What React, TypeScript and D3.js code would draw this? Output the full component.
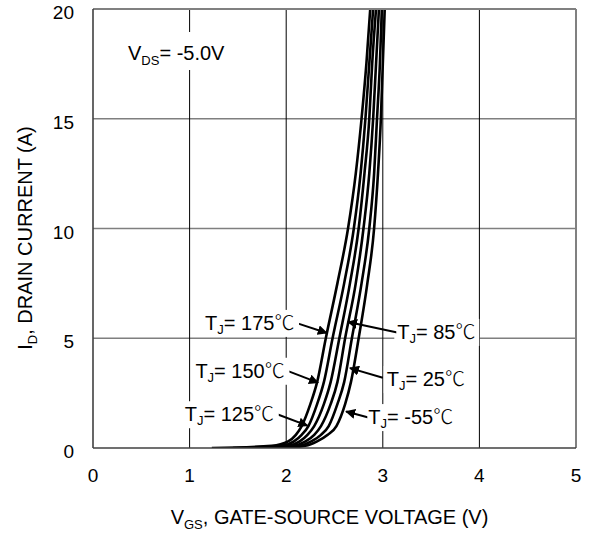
import React from "react";
import * as d3 from "d3";

const W = 594;
const H = 533;

// x ticks / y ticks
const xTicks = [0, 1, 2, 3, 4, 5];
const yTicks = [0, 5, 10, 15, 20];

// Drain current levels (A) at which V_GS was read for each curve
const currentLevels = [0, 0.1, 0.3, 0.6, 1, 2, 3, 5, 7.5, 10, 12.5, 15, 17.5, 20];

// V_GS (V) read at each current level, per junction temperature
const vgs175 = [1.23, 1.85, 2.02, 2.1, 2.16, 2.25, 2.32, 2.41, 2.53, 2.64, 2.72, 2.78, 2.83, 2.87];
const vgs150 = [1.45, 1.95, 2.08, 2.16, 2.23, 2.32, 2.39, 2.48, 2.6, 2.7, 2.77, 2.82, 2.86, 2.9];
const vgs125 = [1.6, 2.02, 2.14, 2.22, 2.29, 2.39, 2.46, 2.55, 2.66, 2.75, 2.81, 2.86, 2.89, 2.93];
const vgs85 = [1.75, 2.08, 2.2, 2.29, 2.36, 2.46, 2.53, 2.61, 2.72, 2.8, 2.86, 2.9, 2.93, 2.96];
const vgs25 = [1.85, 2.14, 2.26, 2.36, 2.44, 2.53, 2.6, 2.68, 2.78, 2.86, 2.91, 2.94, 2.97, 2.99];
const vgsM55 = [1.95, 2.2, 2.32, 2.43, 2.52, 2.61, 2.67, 2.75, 2.84, 2.91, 2.95, 2.98, 3.0, 3.02];

const seriesList = [vgs175, vgs150, vgs125, vgs85, vgs25, vgsM55];

// annotation labels (temperature), text anchor point (V, A), arrow tail and tip (V, A)
const tempLabels = ["175", "150", "125", "85", "25", "-55"];
const labelSide = ["left", "left", "left", "right", "right", "right"];
const labelPos: [number, number][] = [
  [1.16, 5.38],
  [1.06, 3.2],
  [0.95, 1.22],
  [3.15, 4.97],
  [3.04, 2.82],
  [2.85, 1.09],
];
const arrowFrom: [number, number][] = [
  [2.11, 5.69],
  [2.02, 3.5],
  [1.9, 1.55],
  [3.15, 5.26],
  [3.0, 3.2],
  [2.87, 1.37],
];
const arrowTo: [number, number][] = [
  [2.42, 5.24],
  [2.33, 2.98],
  [2.22, 1.02],
  [2.64, 5.74],
  [2.66, 3.64],
  [2.62, 1.66],
];

const FONT = "'Liberation Sans', Arial, Helvetica, sans-serif";

export default function App() {
  const x = d3.scaleLinear().domain([0, 5]).range([93, 576]);
  const y = d3.scaleLinear().domain([0, 20]).range([448, 9]);

  const line = d3
    .line<[number, number]>()
    .x((d) => x(d[0]))
    .y((d) => y(d[1]))
    .curve(d3.curveMonotoneX);

  const [x0, x1] = x.range();
  const [y0, y1] = y.range();

  const labelWidths = [93, 93, 93, 79, 79, 86];

  return (
    <svg
      width={W}
      height={H}
      style={{ position: "absolute", left: 0, top: 0, background: "#fff" }}
      fontFamily={FONT}
    >
      <defs>
        <clipPath id="plotClip">
          <rect x={x0} y={y1} width={x1 - x0} height={y0 - y1} />
        </clipPath>
        <marker
          id="arrowHead"
          viewBox="0 0 10 10"
          refX="9"
          refY="5"
          markerWidth="5"
          markerHeight="5"
          orient="auto"
          markerUnits="strokeWidth"
        >
          <path d="M0,0 L10,5 L0,10 z" fill="#000" />
        </marker>
      </defs>

      {/* horizontal grid */}
      {yTicks
        .filter((t) => t > 0 && t < 20)
        .map((t) => (
          <line key={"hy" + t} x1={x0} x2={x1} y1={y(t)} y2={y(t)} stroke="#7f7f7f" strokeWidth={1.6} />
        ))}
      {/* vertical grid */}
      {xTicks
        .filter((t) => t > 0 && t < 5)
        .map((t) => (
          <line key={"vx" + t} x1={x(t)} x2={x(t)} y1={y1} y2={y0} stroke="#000" strokeWidth={1} />
        ))}

      {/* V_DS label with white background */}
      <rect x={124} y={32} width={110} height={38} fill="#fff" />
      <text x={128} y={60} fontSize={20} fill="#000">
        <tspan>V</tspan>
        <tspan fontSize={13} dy={5}>DS</tspan>
        <tspan dy={-5}>= -5.0V</tspan>
      </text>

      {/* curves */}
      <g clipPath="url(#plotClip)">
        {seriesList.map((vals, i) => {
          const pts = vals.map((v, j) => [v, currentLevels[j]] as [number, number]);
          return (
            <path
              key={"c" + i}
              d={line(pts) || ""}
              fill="none"
              stroke="#000"
              strokeWidth={2.6}
            />
          );
        })}
      </g>

      {/* annotations */}
      {tempLabels.map((lab, i) => {
        const tx = x(labelPos[i][0]);
        const ty = y(labelPos[i][1]);
        return (
          <g key={"a" + i}>
            <rect x={tx - 3} y={ty - 20} width={labelWidths[i] + 6} height={27} fill="#fff" />
            <line
              x1={x(arrowFrom[i][0])}
              y1={y(arrowFrom[i][1])}
              x2={x(arrowTo[i][0])}
              y2={y(arrowTo[i][1])}
              stroke="#000"
              strokeWidth={2}
              markerEnd="url(#arrowHead)"
            />
            <rect
              x={tx - 1}
              y={ty - 17}
              width={labelWidths[i] + 2}
              height={22}
              fill="#fff"
            />
            <text x={tx} y={ty} fontSize={20} fill="#000">
              <tspan>T</tspan>
              <tspan fontSize={13} dy={4}>J</tspan>
              <tspan dy={-4}>= {lab}</tspan>
              <tspan fontFamily="'Noto Sans CJK SC', sans-serif" fontWeight={300}>℃</tspan>
            </text>
          </g>
        );
      })}

      {/* border */}
      <line x1={x0} x2={x1} y1={y1} y2={y1} stroke="#808080" strokeWidth={2} />
      <line x1={x1} x2={x1} y1={y1} y2={y0} stroke="#808080" strokeWidth={2} />
      <line x1={x0} x2={x0} y1={y1} y2={y0} stroke="#404040" strokeWidth={1.6} />
      <line x1={x0} x2={x1} y1={y0} y2={y0} stroke="#404040" strokeWidth={1.6} />

      {/* y tick labels */}
      {yTicks.map((t) => (
        <text key={"yt" + t} x={74} y={y(t) + 10} fontSize={19} textAnchor="end" fill="#000">
          {t}
        </text>
      ))}
      {/* x tick labels */}
      {xTicks.map((t) => (
        <text key={"xt" + t} x={x(t)} y={482} fontSize={19} textAnchor="middle" fill="#000">
          {t}
        </text>
      ))}

      {/* axis titles */}
      <text x={(x0 + x1) / 2 - 5} y={524} fontSize={20} textAnchor="middle" fill="#000">
        <tspan>V</tspan>
        <tspan fontSize={13} dy={5}>GS</tspan>
        <tspan dy={-5}>, GATE-SOURCE VOLTAGE (V)</tspan>
      </text>
      <text
        transform={`translate(32, 238) rotate(-90)`}
        fontSize={20}
        textAnchor="middle"
        fill="#000"
      >
        <tspan>I</tspan>
        <tspan fontSize={13} dy={5}>D</tspan>
        <tspan dy={-5}>, DRAIN CURRENT (A)</tspan>
      </text>
    </svg>
  );
}
